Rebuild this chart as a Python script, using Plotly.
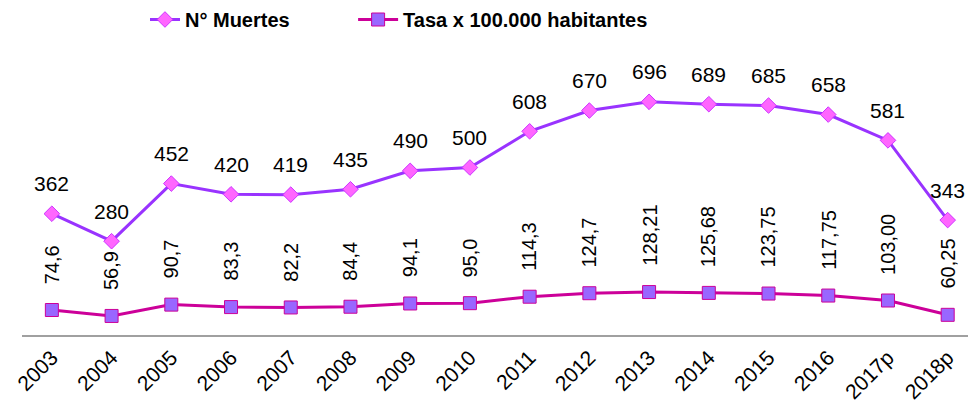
import plotly.graph_objects as go

anios = ['2003', '2004', '2005', '2006', '2007', '2008', '2009', '2010',
         '2011', '2012', '2013', '2014', '2015', '2016', '2017p', '2018p']
muertes = [362, 280, 452, 420, 419, 435, 490, 500, 608, 670, 696, 689, 685, 658, 581, 343]
tasa = [74.6, 56.9, 90.7, 83.3, 82.2, 84.4, 94.1, 95.0, 114.3, 124.7,
        128.21, 125.68, 123.75, 117.75, 103.00, 60.25]
tasa_txt = ['74,6', '56,9', '90,7', '83,3', '82,2', '84,4', '94,1', '95,0', '114,3', '124,7',
            '128,21', '125,68', '123,75', '117,75', '103,00', '60,25']

FUENTE = 'Liberation Sans, Arial, sans-serif'

fig = go.Figure()

# Número de muertes
fig.add_trace(go.Scatter(
    x=anios, y=muertes, mode='lines+markers', name='<b>N° Muertes</b>',
    line=dict(color='#9933FF', width=3),
    marker=dict(symbol='diamond', size=12, color='#FF66FF',
                line=dict(color='#CC33FF', width=1)),
    cliponaxis=False, legend='legend'
))

# Tasa por 100.000 habitantes
fig.add_trace(go.Scatter(
    x=anios, y=tasa, mode='lines+markers', name='<b>Tasa x 100.000 habitantes</b>',
    line=dict(color='#CC0099', width=3),
    marker=dict(symbol='square', size=13, color='#9966FF',
                line=dict(color='#CC0099', width=1)),
    cliponaxis=False, legend='legend2'
))

# etiquetas (x por índice de categoría)
anotaciones = []
for i, m in enumerate(muertes):
    anotaciones.append(dict(
        x=i, y=m, text=str(m), showarrow=False, yanchor='middle', yshift=30,
        font=dict(family=FUENTE, size=21, color='#000000')
    ))
for i, (t, s) in enumerate(zip(tasa, tasa_txt)):
    anotaciones.append(dict(
        x=i, y=t, text=s, showarrow=False, textangle=-90, yanchor='bottom', yshift=24,
        font=dict(family=FUENTE, size=20, color='#000000')
    ))

leyenda = dict(orientation='h', yanchor='top', y=1.25, xanchor='left',
               font=dict(family=FUENTE, size=20, color='#000000'),
               itemwidth=30, bgcolor='rgba(0,0,0,0)')

fig.update_layout(
    width=968, height=408,
    paper_bgcolor='white', plot_bgcolor='white',
    margin=dict(l=22, r=0, t=67, b=73),
    font=dict(family=FUENTE, color='#000000'),
    showlegend=True,
    legend=dict(leyenda, x=0.130),
    legend2=dict(leyenda, x=0.350, itemwidth=40),
    annotations=anotaciones,
    xaxis=dict(type='category', range=[-0.5, 15.34], showgrid=False, automargin=False,
               showline=True, linecolor='#A0A0A0', linewidth=2,
               ticks='', tickangle=-45,
               tickfont=dict(family=FUENTE, size=21, color='#000000')),
    yaxis=dict(range=[0, 800], visible=False, showgrid=False, zeroline=False,
               automargin=False)
)

# quitar el margen del body para que la figura ocupe toda la ventana
fig.write_html('out.html', config={'displayModeBar': False},
               post_script="document.body.style.margin='0';document.body.style.overflow='hidden';")
